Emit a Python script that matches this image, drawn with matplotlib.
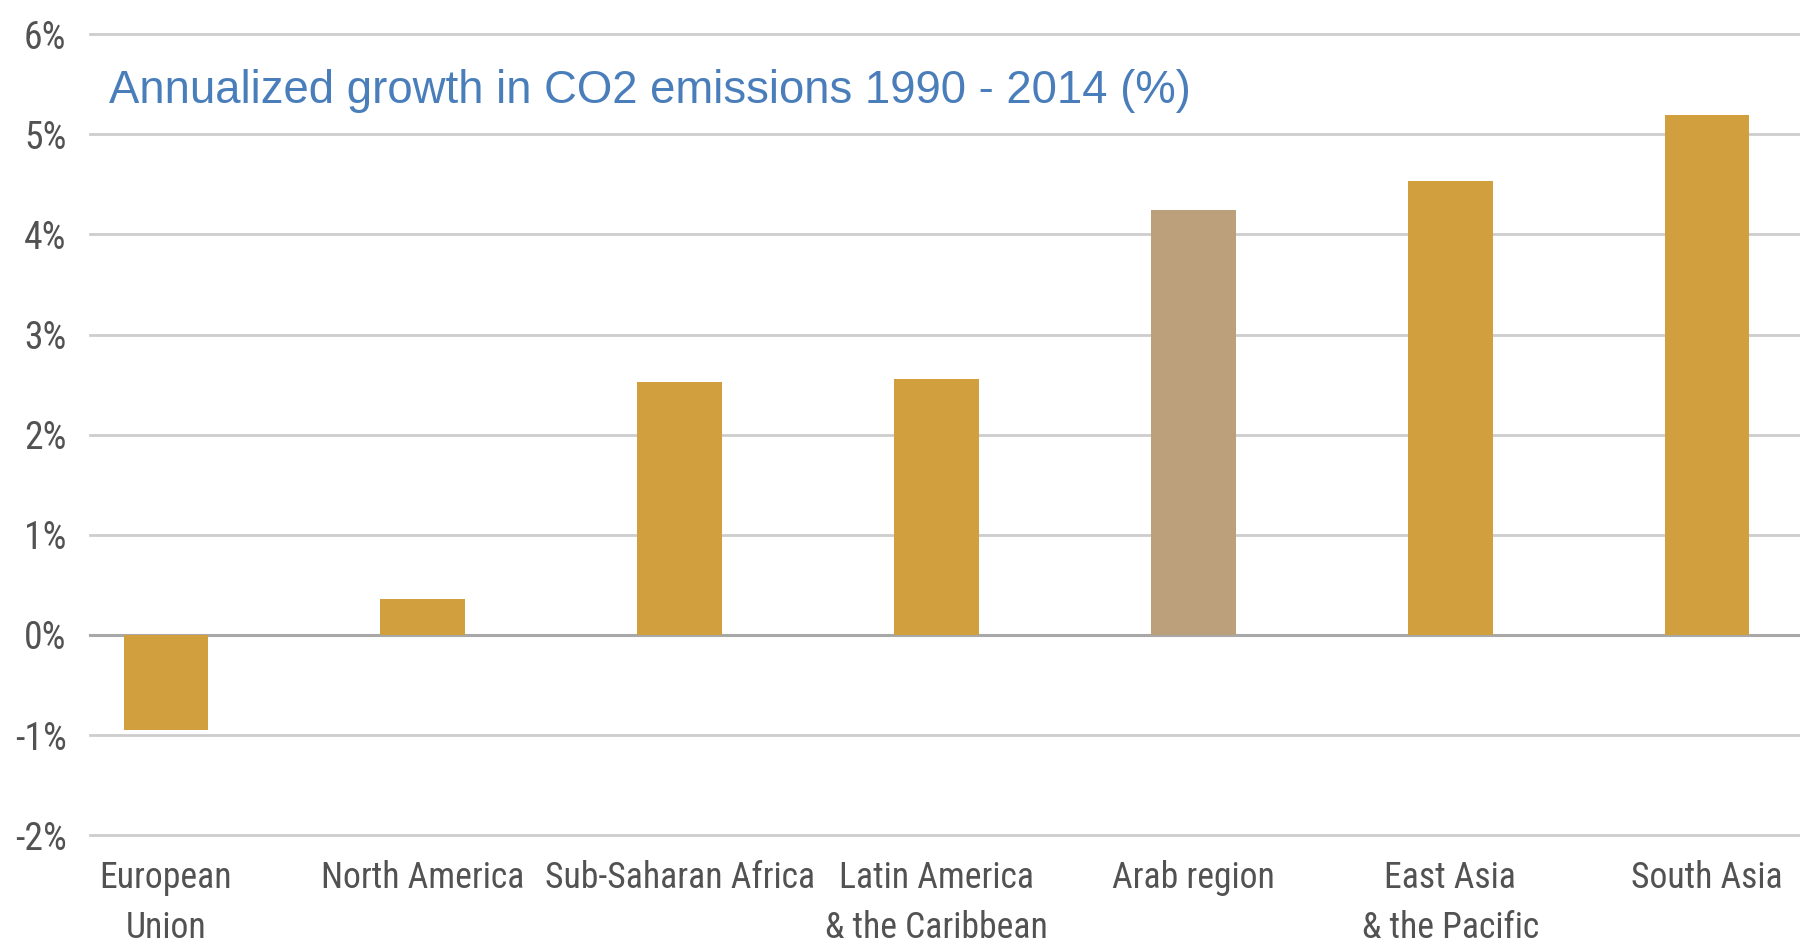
import matplotlib

matplotlib.use("Agg")

import matplotlib.pyplot as plt
from matplotlib import font_manager as fm
from matplotlib.ticker import FixedLocator

# data
regions = [
    "European\nUnion",
    "North America",
    "Sub-Saharan Africa",
    "Latin America\n& the Caribbean",
    "Arab region",
    "East Asia\n& the Pacific",
    "South Asia",
]
growth_pct = [-0.95, 0.36, 2.53, 2.56, 4.24, 4.53, 5.19]
highlight = "Arab region"
y_ticks = [-2, -1, 0, 1, 2, 3, 4, 5, 6]
title = "Annualized growth in CO2 emissions 1990 - 2014 (%)"

GOLD = "#D29F3F"
TAN = "#BC9F7B"
GREY = "#525252"


def _condensed_font():
    """Find an installed condensed/narrow face for the axis labels."""
    preferred = ["roboto condensed", "liberation sans narrow", "dejavu sans condensed",
                 "noto sans condensed", "open sans condensed"]
    found = []
    for f in fm.fontManager.ttflist:
        tag = (f.name + " " + str(f.stretch) + " " + f.fname).lower()
        if f.style != "normal":
            continue
        if "condensed" in tag or "narrow" in tag:
            if "bold" in f.fname.lower() or "light" in f.fname.lower() or "thin" in f.fname.lower():
                continue
            found.append(f)
    if not found:
        return fm.FontProperties(family="DejaVu Sans")

    def rank(f):
        key = (f.name + " " + f.fname).lower()
        for i, p in enumerate(preferred):
            if p in key or p.replace(" ", "") in key:
                return i
        return len(preferred)

    found.sort(key=rank)
    return fm.FontProperties(fname=found[0].fname)


label_font = _condensed_font()

fig = plt.figure(figsize=(18, 9.49), dpi=100)
ax = fig.add_axes([0.05, 0.12, 0.95, 0.844])

xs = list(range(len(regions)))
colors = [TAN if r == highlight else GOLD for r in regions]
ax.bar(xs, growth_pct, width=0.33, color=colors, zorder=3)

ax.set_xlim(-0.296, 6.362)
ax.set_ylim(y_ticks[0], y_ticks[-1])
ax.yaxis.set_major_locator(FixedLocator(y_ticks))
ylabels = ax.set_yticklabels([f"{t}%" for t in y_ticks], fontproperties=label_font,
                             fontsize=27, color=GREY)
ax.set_xticks(xs)
xlabels = ax.set_xticklabels(regions, fontproperties=label_font, fontsize=29,
                             color=GREY, linespacing=1.5)
ax.tick_params(axis="both", length=0)
ax.tick_params(axis="y", pad=17)
ax.tick_params(axis="x", pad=18)

# size labels from the widths seen in the reference (a bit larger, the
# original face is narrower than anything installed here)
fig.canvas.draw()
renderer = fig.canvas.get_renderer()
w = xlabels[2].get_window_extent(renderer).width
xsize = min(35, 1.12 * 29 * 240 / w)
for t in xlabels:
    t.set_fontsize(xsize)
w = ylabels[0].get_window_extent(renderer).width
ysize = min(31, 1.08 * 27 * 48 / w)
for t in ylabels:
    t.set_fontsize(ysize)

for s in ax.spines.values():
    s.set_visible(False)

ax.grid(axis="y", color="#CDCDCD", linewidth=2.0, zorder=0)
ax.set_axisbelow(True)
for line in ax.get_ygridlines():
    line.set_clip_on(False)
ax.axhline(0, color="#A8A8A8", linewidth=2.2, zorder=2, clip_on=False)

fig.text(109 / 1800, 1 - 91 / 949, title, family=["Liberation Sans", "DejaVu Sans"],
         fontsize=32.8, color="#4A7EBB", va="center", ha="left")

fig.savefig("out.png", dpi=100, facecolor="white")
plt.close(fig)
